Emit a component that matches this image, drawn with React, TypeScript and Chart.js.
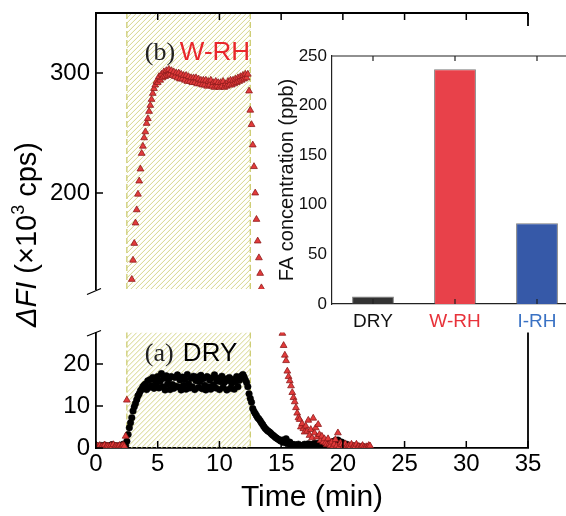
import React, { useEffect, useRef } from "react";
import { Chart, registerables } from "chart.js";

Chart.register(...registerables);

// ---------------- data ----------------
// sampling interval of the time series (min) and start time
const STEP_MIN = 0.1;
const T0 = 0;

// W-RH fluorescence response (x10^3 cps), one value per sample
const WRH_VALUES = [
  0.3, 0.5, 0.2, 0.6, 0.1, 0.4, 0.3, 0.7, 0.2, 0.5,
  0.4, 0.1, 0.6, 0.3, 0.8, 0.2, 0.5, 0.4, 0.3, 0.6,
  0.2, 0.5, 0.7, 0.4, 2.8, 11.4, 38, 70, 98, 128,
  144, 158, 175, 186, 199, 210, 220, 233, 239, 246,
  251, 258, 262, 268, 273, 278, 283, 287, 290, 293,
  292, 297, 294, 299, 296, 301, 297, 302, 298, 303,
  299, 302, 298, 301, 297, 300, 296, 300, 295, 299,
  295, 298, 294, 298, 293, 297, 293, 296, 292, 296,
  292, 296, 291, 295, 291, 294, 290, 294, 290, 294,
  289, 293, 290, 294, 289, 292, 288, 293, 289, 292,
  288, 292, 289, 293, 288, 291, 289, 293, 290, 294,
  290, 294, 291, 295, 292, 296, 293, 297, 294, 298,
  295, 299, 296, 299, 285, 269, 257, 240, 222, 200,
  178, 160, 146, 133, 121, 110, 100, 92, 84, 77,
  70, 64, 58, 53, 48, 44, 40, 37, 34, 31,
  29.5, 27.3, 24.4, 22.1, 20.8, 18.3, 17.0, 16.0, 14.8, 13.2,
  12.0, 11.0, 9.6, 8.3, 7.2, 6.8, 5.0, 5.8, 4.6, 3.8,
  5.2, 4.0, 6.6, 3.0, 4.4, 2.4, 7.1, 3.6, 4.8, 2.6,
  5.6, 3.2, 1.8, 2.8, 1.4, 2.2, 1.2, 0.8, 2.2, 1.0,
  0.6, 1.4, 0.4, 0.9, 2.0, 0.5, 3.6, 0.3, 1.2, 0.8,
  0.2, 0.7, 1.0, 0.4, 0.2, 0.6, 0.3, 0.9, 0.2, 0.5,
  0.3, 0.9, 0.2, 0.4, 0.1, 0.3, 0.6, 0.2, 0.1, 0.3,
  0.2, 0.6, 0.5,
];

// DRY fluorescence response (x10^3 cps)
const DRY_VALUES = [
  0.2, 0.5, 0.1, 0.3, 0.6, 0.0, 0.4, 0.7, 0.2, 0.3,
  0.5, 0.1, 0.4, 0.8, 0.2, 0.6, 0.3, 0.0, 0.5, 0.4,
  0.2, 0.6, 0.9, 0.3, 0.5, 1.6, 3.2, 4.8, 6.0, 7.2,
  8.8, 9.8, 10.6, 11.5, 12.4, 12.9, 13.6, 14.0, 14.6, 14.9,
  15.2, 13.9, 16.0, 14.4, 16.3, 14.8, 16.8, 14.2, 16.1, 15.0,
  17.0, 14.3, 15.9, 17.7, 14.6, 16.6, 13.8, 17.2, 15.2, 16.4,
  13.9, 17.0, 15.1, 14.2, 16.8, 14.7, 17.4, 14.5, 16.2, 13.8,
  16.9, 14.9, 16.3, 14.0, 17.5, 15.3, 14.3, 16.6, 14.6, 17.1,
  13.9, 16.0, 16.9, 14.4, 15.8, 17.3, 14.1, 16.5, 14.9, 13.8,
  17.0, 14.6, 16.2, 14.0, 16.7, 15.0, 17.4, 14.3, 15.9, 16.6,
  13.9, 15.8, 17.1, 14.4, 15.6, 16.4, 13.8, 16.1, 16.8, 14.2,
  15.4, 16.3, 14.0, 15.8, 17.0, 14.6, 16.1, 16.7, 17.2, 17.5,
  16.9, 16.2, 15.6, 14.6, 12.9, 11.8, 10.9, 9.4, 8.7, 8.2,
  7.7, 7.2, 6.9, 6.5, 6.0, 5.6, 5.1, 4.7, 4.4, 4.1,
  3.9, 3.7, 3.4, 3.1, 2.9, 2.6, 2.4, 2.2, 2.0, 1.8,
  1.6, 1.9, 1.3, 1.5, 2.2, 1.0, 1.2, 1.4, 0.8, 0.9,
  0.6, 0.8, 0.3, 0.6, 0.9, 0.4, 0.5, 0.2, 0.7, 0.9,
  0.4, 0.6, 1.0, 0.5, 0.8, 0.3, 0.9, 1.1, 0.6, 1.0,
  0.7, 1.2, 0.8, 1.0, 0.6, 1.1, 0.9, 0.7, 1.0, 1.3,
  1.0, 1.4, 1.2, 1.6, 1.8, 1.7, 1.9, 1.5, 1.2, 1.4,
  1.0, 0.8, 0.6, 0.9, 0.4, 0.5, 0.3, 0.2, 0.5, 0.2,
  0.1, 0.3, 0.4, 0.1, 0.2, 0.1, 0.3, 0.2, 0.0, 0.1,
  0.2,
];

// exposure window (min)
const EXPOSURE = [2.5, 12.5];

// axes
const X_RANGE = [0, 35];
const X_TICKS = [0, 5, 10, 15, 20, 25, 30, 35];
const HIGH_RANGE = [120, 350];
const HIGH_TICKS = [200, 300];
const LOW_RANGE = [0, 27.5];
const LOW_TICKS = [0, 10, 20];

// inset bar chart
const BAR_CATEGORIES = ["DRY", "W-RH", "I-RH"];
const BAR_VALUES = [7.6, 236.6, 81.5];
const BAR_TICKS = [0, 50, 100, 150, 200, 250];
const BAR_RANGE = [0, 250];

// ---------------- styles ----------------
const SANS = '"Liberation Sans", Arial, sans-serif';
const SERIF = '"Liberation Serif", "Times New Roman", serif';
const BAR_COLORS = ["#333333", "#e8414a", "#3659a8"];
const BAR_LABEL_COLORS = ["#111111", "#e8323a", "#3a72c4"];
const RED = "#e8272b";

const toPoints = (vals: number[]) =>
  vals.map((v, i) => ({ x: +(T0 + i * STEP_MIN).toFixed(3), y: v }));

const setTicks = (list: number[]) => (s: any) => {
  s.ticks = list.map((v) => ({ value: v }));
};

const fitY = (s: any) => {
  s.width = 96;
  s.paddingTop = 0;
  s.paddingBottom = 0;
};

const mainDecor = {
  id: "mainDecor",
  beforeDatasetsDraw(chart: any) {
    const { ctx } = chart;
    const xs = chart.scales.x;
    const xa = xs.getPixelForValue(EXPOSURE[0]);
    const xb = xs.getPixelForValue(EXPOSURE[1]);
    for (const id of ["yHigh", "yLow"]) {
      const s = chart.scales[id];
      const h = s.bottom - s.top;
      ctx.save();
      ctx.beginPath();
      ctx.rect(xa, s.top, xb - xa, h);
      ctx.clip();
      ctx.strokeStyle = "#d5d58a";
      ctx.lineWidth = 1;
      ctx.beginPath();
      for (let x0 = xa - h; x0 < xb + 5; x0 += 5) {
        ctx.moveTo(x0, s.bottom);
        ctx.lineTo(x0 + h, s.top);
      }
      ctx.stroke();
      ctx.restore();
      ctx.save();
      ctx.setLineDash([6, 3]);
      ctx.strokeStyle = "#c9c866";
      ctx.lineWidth = 1.2;
      ctx.beginPath();
      ctx.moveTo(xa, s.top);
      ctx.lineTo(xa, s.bottom);
      ctx.moveTo(xb, s.top);
      ctx.lineTo(xb, s.bottom);
      ctx.stroke();
      ctx.restore();
    }
  },
  afterDraw(chart: any) {
    const { ctx } = chart;
    const xs = chart.scales.x;
    const hi = chart.scales.yHigh;
    const lo = chart.scales.yLow;
    const L = xs.left;
    const R = xs.right;
    const T = hi.top;
    const B = lo.bottom;
    const TL = 7;
    ctx.save();
    ctx.strokeStyle = "#000";
    ctx.lineWidth = 1.8;
    ctx.beginPath();
    // top frame and right frame
    ctx.moveTo(L - 0.9, T);
    ctx.lineTo(R, T);
    ctx.moveTo(R, T);
    ctx.lineTo(R, hi.bottom);
    ctx.moveTo(R, lo.top);
    ctx.lineTo(R, B);
    ctx.stroke();
    ctx.lineWidth = 1.5;
    ctx.beginPath();
    // x ticks (bottom & top), inward
    for (const v of X_TICKS) {
      const px = xs.getPixelForValue(v);
      ctx.moveTo(px, B);
      ctx.lineTo(px, B - TL);
      ctx.moveTo(px, T);
      ctx.lineTo(px, T + TL);
    }
    for (const v of HIGH_TICKS) {
      const py = hi.getPixelForValue(v);
      ctx.moveTo(L, py);
      ctx.lineTo(L + TL, py);
    }
    for (const v of LOW_TICKS) {
      const py = lo.getPixelForValue(v);
      ctx.moveTo(L, py);
      ctx.lineTo(L + TL, py);
    }
    ctx.stroke();
    // axis break marks
    ctx.lineWidth = 1.3;
    ctx.beginPath();
    ctx.moveTo(L - 9, hi.bottom + 5.5);
    ctx.lineTo(L + 5, hi.bottom - 0.5);
    ctx.moveTo(L - 9, lo.top + 3.5);
    ctx.lineTo(L + 5, lo.top - 2);
    ctx.stroke();

    // panel labels
    const lx = xs.getPixelForValue(EXPOSURE[0]) + 18;
    ctx.textAlign = "left";
    ctx.textBaseline = "alphabetic";
    ctx.fillStyle = "#222";
    ctx.font = `26px ${SERIF}`;
    ctx.fillText("(b)", lx, T + 47);
    ctx.fillText("(a)", lx, lo.top + 28);
    ctx.font = `26px ${SANS}`;
    ctx.fillStyle = RED;
    ctx.fillText("W-RH", lx + 35, T + 47);
    ctx.fillStyle = "#000";
    ctx.fillText("DRY", lx + 38, lo.top + 28);

    // y title spanning both panels
    const parts = [
      { text: "\u0394FI", font: `italic 29px ${SANS}`, dy: 0 },
      { text: " (\u00d710", font: `29px ${SANS}`, dy: 0 },
      { text: "3", font: `18px ${SANS}`, dy: -12 },
      { text: " cps)", font: `29px ${SANS}`, dy: 0 },
    ];
    let total = 0;
    const widths = parts.map((p) => {
      ctx.font = p.font;
      const w = ctx.measureText(p.text).width;
      total += w;
      return w;
    });
    const midY = (T + B) / 2 + 4;
    ctx.translate(36, midY + total / 2);
    ctx.rotate(-Math.PI / 2);
    ctx.fillStyle = "#000";
    let cx = 0;
    parts.forEach((p, i) => {
      ctx.font = p.font;
      ctx.fillText(p.text, cx, p.dy);
      cx += widths[i];
    });
    ctx.restore();
  },
};

const insetDecor = {
  id: "insetDecor",
  afterDraw(chart: any) {
    const { ctx } = chart;
    const xs = chart.scales.x;
    const ys = chart.scales.y;
    ctx.save();
    ctx.strokeStyle = "#222";
    ctx.lineWidth = 1.2;
    ctx.beginPath();
    ctx.moveTo(xs.left - 0.6, ys.top);
    ctx.lineTo(xs.right, ys.top);
    ctx.lineTo(xs.right, ys.bottom);
    for (let i = 0; i < BAR_CATEGORIES.length; i++) {
      const px = xs.getPixelForValue(i);
      ctx.moveTo(px, ys.top);
      ctx.lineTo(px, ys.top + 5);
      ctx.moveTo(px, ys.bottom);
      ctx.lineTo(px, ys.bottom - 5);
    }
    ctx.stroke();
    ctx.restore();
  },
};

export default function App() {
  const mainRef = useRef<HTMLCanvasElement>(null);
  const insetRef = useRef<HTMLCanvasElement>(null);

  useEffect(() => {
    const wrh = toPoints(WRH_VALUES);
    const dry = toPoints(DRY_VALUES);
    const wrhHigh = wrh.filter((p) => p.y >= HIGH_RANGE[0] - 4);
    const wrhLow = wrh.filter((p) => p.y <= LOW_RANGE[1] + 4);

    const triangle = {
      pointStyle: "triangle",
      pointRadius: 3.9,
      pointBackgroundColor: "#e23b3b",
      pointBorderColor: "#8e1c1c",
      pointBorderWidth: 0.8,
      showLine: false,
    };

    const tickFont = { size: 24, family: SANS };

    const main = new Chart(mainRef.current!, {
      type: "scatter",
      data: {
        datasets: [
          { ...triangle, data: wrhHigh, yAxisID: "yHigh" } as any,
          { ...triangle, data: wrhLow, yAxisID: "yLow" } as any,
          {
            data: dry,
            yAxisID: "yLow",
            pointStyle: "circle",
            pointRadius: 3.3,
            pointBackgroundColor: "#000",
            pointBorderColor: "#000",
            pointBorderWidth: 0.5,
            showLine: false,
          } as any,
        ],
      },
      options: {
        animation: false,
        responsive: false,
        devicePixelRatio: 1,
        layout: { padding: { top: 13, right: 38, left: 0, bottom: 0 } },
        plugins: { legend: { display: false }, tooltip: { enabled: false } },
        scales: {
          x: {
            type: "linear",
            position: "bottom",
            min: X_RANGE[0],
            max: X_RANGE[1],
            afterBuildTicks: setTicks(X_TICKS),
            afterFit: (s: any) => {
              s.height = 68;
            },
            grid: { display: false, drawTicks: false },
            border: { display: true, color: "#000", width: 1.8 },
            ticks: { font: tickFont, color: "#000", padding: 2, maxRotation: 0, autoSkip: false },
            title: {
              display: true,
              text: "Time (min)",
              font: { size: 30, family: SANS },
              color: "#000",
              padding: { top: 0, bottom: 0 },
            },
          },
          yLow: {
            type: "linear",
            position: "left",
            stack: "fi",
            stackWeight: 115.5,
            weight: 0,
            min: LOW_RANGE[0],
            max: LOW_RANGE[1],
            afterBuildTicks: setTicks(LOW_TICKS),
            afterFit: fitY,
            grid: { display: false, drawTicks: false },
            border: { display: true, color: "#000", width: 1.8 },
            ticks: { font: tickFont, color: "#000", padding: 6 },
          },
          yGap: {
            type: "linear",
            position: "left",
            stack: "fi",
            stackWeight: 43.5,
            weight: 1,
            min: 0,
            max: 1,
            afterFit: fitY,
            grid: { display: false, drawTicks: false },
            border: { display: false },
            ticks: { display: false },
          },
          yHigh: {
            type: "linear",
            position: "left",
            stack: "fi",
            stackWeight: 276,
            weight: 2,
            min: HIGH_RANGE[0],
            max: HIGH_RANGE[1],
            afterBuildTicks: setTicks(HIGH_TICKS),
            afterFit: fitY,
            grid: { display: false, drawTicks: false },
            border: { display: true, color: "#000", width: 1.8 },
            ticks: { font: tickFont, color: "#000", padding: 6 },
          },
        } as any,
      },
      plugins: [mainDecor],
    });

    const inset = new Chart(insetRef.current!, {
      type: "bar",
      data: {
        labels: BAR_CATEGORIES,
        datasets: [
          {
            data: BAR_VALUES,
            backgroundColor: BAR_COLORS,
            borderColor: "rgba(70,70,70,0.7)",
            borderWidth: 1,
            barPercentage: 0.51,
            categoryPercentage: 1,
          },
        ],
      },
      options: {
        animation: false,
        responsive: false,
        devicePixelRatio: 1,
        layout: { padding: { top: 30, right: 12, left: 0, bottom: 0 } },
        plugins: { legend: { display: false }, tooltip: { enabled: false } },
        scales: {
          x: {
            type: "category",
            afterFit: (s: any) => {
              s.height = 27;
            },
            grid: { display: false, drawTicks: false },
            border: { display: true, color: "#222", width: 1.2 },
            ticks: {
              font: { size: 19, family: SANS },
              color: (c: any) => BAR_LABEL_COLORS[c.index] || "#111",
              padding: 6,
            },
          },
          y: {
            type: "linear",
            min: BAR_RANGE[0],
            max: BAR_RANGE[1],
            afterBuildTicks: setTicks(BAR_TICKS),
            afterFit: (s: any) => {
              s.width = 62;
              s.paddingTop = 0;
            },
            grid: { display: false, drawTicks: false },
            border: { display: true, color: "#222", width: 1.2 },
            ticks: { font: { size: 17, family: SANS }, color: "#111", padding: 5 },
            title: {
              display: true,
              text: "FA concentration (ppb)",
              font: { size: 20, family: SANS },
              color: "#111",
              padding: { top: 5, bottom: 0 },
            },
          },
        } as any,
      },
      plugins: [insetDecor],
    });

    return () => {
      main.destroy();
      inset.destroy();
    };
  }, []);

  return (
    <div
      style={{
        position: "absolute",
        left: 0,
        top: 0,
        width: 566,
        height: 516,
        overflow: "hidden",
        background: "#fff",
      }}
    >
      <canvas
        ref={mainRef}
        width={566}
        height={516}
        style={{ position: "absolute", left: 0, top: 0 }}
      />
      <canvas
        ref={insetRef}
        width={320}
        height={305}
        style={{ position: "absolute", left: 270, top: 26, background: "#fff" }}
      />
    </div>
  );
}
